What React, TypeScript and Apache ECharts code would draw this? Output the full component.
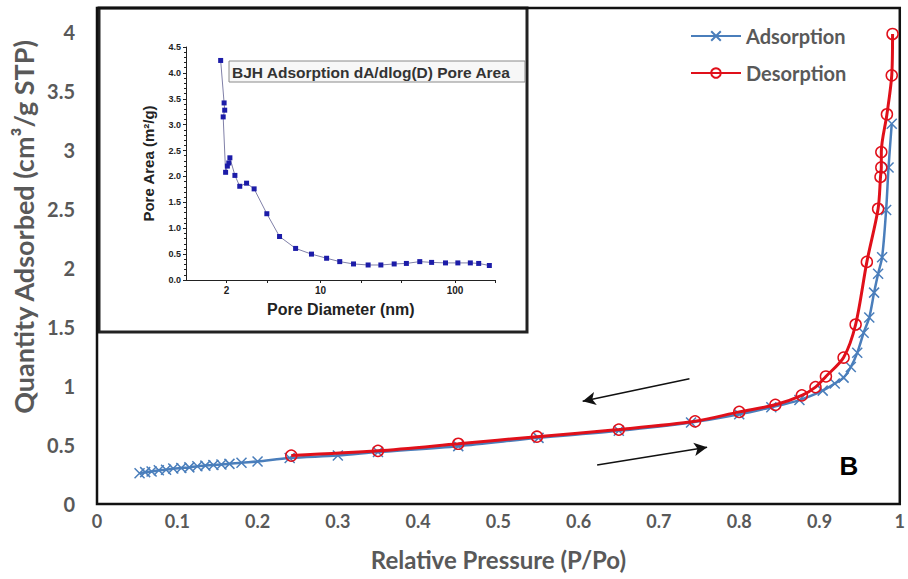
import React, { useEffect, useRef } from 'react';
import * as echarts from 'echarts';

// N2 sorption isotherm: relative pressure (P/Po) vs quantity adsorbed (cm³/g STP)
const adsorptionP = [0.053, 0.06, 0.068, 0.077, 0.086, 0.095, 0.105, 0.115, 0.125, 0.135, 0.145, 0.155, 0.165, 0.18, 0.2, 0.24, 0.3, 0.35, 0.45, 0.55, 0.65, 0.74, 0.8, 0.84, 0.875, 0.904, 0.919, 0.93, 0.939, 0.947, 0.955, 0.962, 0.968, 0.973, 0.978, 0.983, 0.986, 0.99];
const adsorptionQ = [0.26, 0.27, 0.275, 0.285, 0.29, 0.3, 0.305, 0.31, 0.32, 0.325, 0.33, 0.335, 0.34, 0.35, 0.36, 0.39, 0.41, 0.44, 0.49, 0.56, 0.62, 0.69, 0.76, 0.82, 0.88, 0.96, 1.02, 1.07, 1.16, 1.28, 1.45, 1.58, 1.79, 1.95, 2.09, 2.49, 2.85, 3.22];

const desorptionP = [0.991, 0.99, 0.984, 0.977, 0.977, 0.976, 0.973, 0.959, 0.945, 0.93, 0.908, 0.895, 0.878, 0.845, 0.8, 0.745, 0.65, 0.548, 0.45, 0.35, 0.242];
const desorptionQ = [3.98, 3.63, 3.3, 2.98, 2.85, 2.77, 2.5, 2.05, 1.52, 1.24, 1.08, 0.99, 0.92, 0.84, 0.78, 0.7, 0.63, 0.57, 0.51, 0.45, 0.41];

// BJH adsorption dA/dlog(D) pore area distribution
const poreDiameter = [1.81, 1.92, 1.94, 1.89, 1.97, 2.03, 2.08, 2.12, 2.31, 2.51, 2.82, 3.21, 3.99, 4.96, 6.53, 8.57, 11.1, 13.9, 17.6, 22.6, 28.1, 35.3, 43.5, 54.7, 67, 85, 105, 130, 150, 180];
const poreArea = [4.24, 3.42, 3.28, 3.15, 2.08, 2.2, 2.26, 2.36, 2.02, 1.81, 1.87, 1.76, 1.28, 0.84, 0.61, 0.5, 0.42, 0.355, 0.31, 0.29, 0.29, 0.31, 0.32, 0.355, 0.34, 0.33, 0.33, 0.33, 0.32, 0.28];

const insetXLabels = [2, 10, 100];
const insetXTicks = [2, 4, 10, 20, 40, 100, 200];

// hysteresis direction arrows, [start, end] in (P/Po, quantity)
const arrowDesorb = [[0.738, 1.06], [0.605, 0.87]];
const arrowAdsorb = [[0.623, 0.33], [0.76, 0.48]];

const BLUE = '#4A7EBB';
const RED = '#E0101A';
const GREY = '#595959';
const CROSS = 'path://M0,0L10,10M10,0L0,10';
const MAIN_FONT = 'Lato, "Open Sans", sans-serif';
const INSET_FONT = '"Liberation Sans", Arial, sans-serif';

export default function App() {
  const ref = useRef<HTMLDivElement>(null);

  useEffect(() => {
    if (!ref.current) return;
    const chart = echarts.init(ref.current, undefined, { renderer: 'svg' });

    const adsorption = adsorptionP.map((p, i) => [p, adsorptionQ[i]]);
    const desorption = desorptionP.map((p, i) => [p, desorptionQ[i]]);
    const pores = poreDiameter.map((d, i) => [Math.log10(d), poreArea[i]]);

    chart.setOption({
      animation: false,
      backgroundColor: '#ffffff',
      legend: {
        orient: 'vertical',
        left: 685,
        top: 21,
        itemWidth: 50,
        itemHeight: 12,
        itemGap: 17,
        data: ['Adsorption', 'Desorption'],
        textStyle: { fontSize: 20, color: GREY, fontFamily: MAIN_FONT, fontWeight: 'bold' },
      },
      grid: [
        { left: 97, right: 7, top: 8, bottom: 75, show: true, borderColor: '#111111', borderWidth: 2.5, backgroundColor: 'transparent' },
        { left: 186, right: 412.5, top: 47, bottom: 299 },
      ],
      xAxis: [
        {
          gridIndex: 0,
          type: 'value',
          min: 0,
          max: 1,
          interval: 0.1,
          name: 'Relative Pressure (P/Po)',
          nameLocation: 'middle',
          nameGap: 43,
          nameTextStyle: { fontSize: 24, color: GREY, fontFamily: MAIN_FONT, fontWeight: 'bold' },
          axisLine: { show: false },
          axisTick: { show: false },
          splitLine: { show: false },
          axisLabel: { fontSize: 18, color: GREY, fontFamily: MAIN_FONT, fontWeight: 'bold', margin: 8 },
        },
        {
          gridIndex: 1,
          type: 'value',
          min: 0,
          max: Math.log10(200),
          name: 'Pore Diameter (nm)',
          nameLocation: 'middle',
          nameGap: 21,
          nameTextStyle: { fontSize: 16, color: '#222', fontFamily: INSET_FONT, fontWeight: 'bold' },
          axisLine: { show: true, onZero: false, lineStyle: { color: '#222', width: 1 } },
          axisTick: { show: true, length: 3, customValues: insetXTicks.map((v) => Math.log10(v)), lineStyle: { color: '#222' } },
          splitLine: { show: false },
          axisLabel: {
            customValues: insetXLabels.map((v) => Math.log10(v)),
            formatter: (v: number) => String(Math.round(Math.pow(10, v))),
            fontSize: 10,
            color: '#222',
            fontFamily: INSET_FONT,
            fontWeight: 'bold',
            margin: 5,
          },
        },
      ],
      yAxis: [
        {
          gridIndex: 0,
          type: 'value',
          min: 0,
          max: 4.2,
          interval: 0.5,
          axisLine: { show: false },
          axisTick: { show: false },
          splitLine: { show: false },
          axisLabel: {
            fontSize: 20,
            color: GREY,
            fontFamily: MAIN_FONT,
            fontWeight: 'bold',
            margin: 22,
            formatter: (v: number) => (Math.abs(v * 2 - Math.round(v * 2)) < 1e-6 ? String(v) : ''),
          },
        },
        {
          gridIndex: 1,
          type: 'value',
          min: 0,
          max: 4.5,
          interval: 0.5,
          name: 'Pore Area (m²/g)',
          nameLocation: 'middle',
          nameGap: 30,
          nameTextStyle: { fontSize: 15, color: '#222', fontFamily: INSET_FONT, fontWeight: 'bold' },
          axisLine: { show: true, onZero: false, lineStyle: { color: '#222', width: 1 } },
          axisTick: { show: true, length: 3, lineStyle: { color: '#222' } },
          minorTick: { show: true, splitNumber: 5, length: 2, lineStyle: { color: '#222' } },
          splitLine: { show: false },
          axisLabel: {
            formatter: (v: number) => v.toFixed(1),
            fontSize: 9,
            color: '#222',
            fontFamily: INSET_FONT,
            fontWeight: 'bold',
            margin: 5,
          },
        },
      ],
      graphic: [
        {
          type: 'rect',
          z: -10,
          shape: { x: 99, y: 8, width: 428, height: 324 },
          style: { fill: '#ffffff', stroke: '#222222', lineWidth: 3 },
        },
        {
          type: 'rect',
          shape: { x: 229, y: 61, width: 296, height: 21 },
          style: { fill: '#f7f7f7', stroke: '#8a8a8a', lineWidth: 1 },
        },
        {
          type: 'text',
          x: 232,
          y: 72,
          style: {
            text: 'BJH Adsorption dA/dlog(D) Pore Area',
            fill: '#333333',
            font: 'bold 15.5px "Liberation Sans", Arial, sans-serif',
            align: 'left',
            verticalAlign: 'middle',
            textAlign: 'left',
            textVerticalAlign: 'middle',
          },
        },
        {
          type: 'text',
          x: 23,
          y: 227,
          rotation: Math.PI / 2,
          style: {
            text: 'Quantity Adsorbed (cm³/g STP)',
            fill: GREY,
            font: 'bold 27px Lato, "Open Sans", sans-serif',
            align: 'center',
            verticalAlign: 'middle',
            textAlign: 'center',
            textVerticalAlign: 'middle',
          },
        },
        {
          type: 'text',
          x: 849,
          y: 466,
          style: {
            text: 'B',
            fill: '#000000',
            font: 'bold 26px "Liberation Sans", Arial, sans-serif',
            align: 'center',
            verticalAlign: 'middle',
            textAlign: 'center',
            textVerticalAlign: 'middle',
          },
        },
      ],
      series: [
        {
          name: 'Adsorption',
          type: 'line',
          xAxisIndex: 0,
          yAxisIndex: 0,
          data: adsorption,
          smooth: 0.3,
          symbol: CROSS,
          symbolSize: 10,
          lineStyle: { color: BLUE, width: 2.5 },
          itemStyle: { color: BLUE, borderColor: BLUE, borderWidth: 1.5 },
          z: 3,
        },
        {
          name: 'Desorption',
          type: 'line',
          xAxisIndex: 0,
          yAxisIndex: 0,
          data: desorption,
          smooth: 0.3,
          symbol: 'circle',
          symbolSize: 11,
          lineStyle: { color: RED, width: 3 },
          itemStyle: { color: 'rgba(255,255,255,0)', borderColor: RED, borderWidth: 1.5 },
          z: 4,
          markLine: {
            silent: true,
            symbol: ['none', 'arrow'],
            symbolSize: [10, 13],
            label: { show: false },
            lineStyle: { color: '#111111', width: 1.5, type: 'solid' },
            data: [
              [{ coord: arrowDesorb[0] }, { coord: arrowDesorb[1] }],
              [{ coord: arrowAdsorb[0] }, { coord: arrowAdsorb[1] }],
            ],
          },
        },
        {
          name: 'BJH',
          type: 'line',
          xAxisIndex: 1,
          yAxisIndex: 1,
          data: pores,
          symbol: 'rect',
          symbolSize: 5,
          lineStyle: { color: '#8080a8', width: 1 },
          itemStyle: { color: '#1c1ca8' },
          z: 5,
        },
      ],
    });

    return () => chart.dispose();
  }, []);

  return <div ref={ref} style={{ position: 'absolute', left: 0, top: 0, width: 908, height: 579 }} />;
}
